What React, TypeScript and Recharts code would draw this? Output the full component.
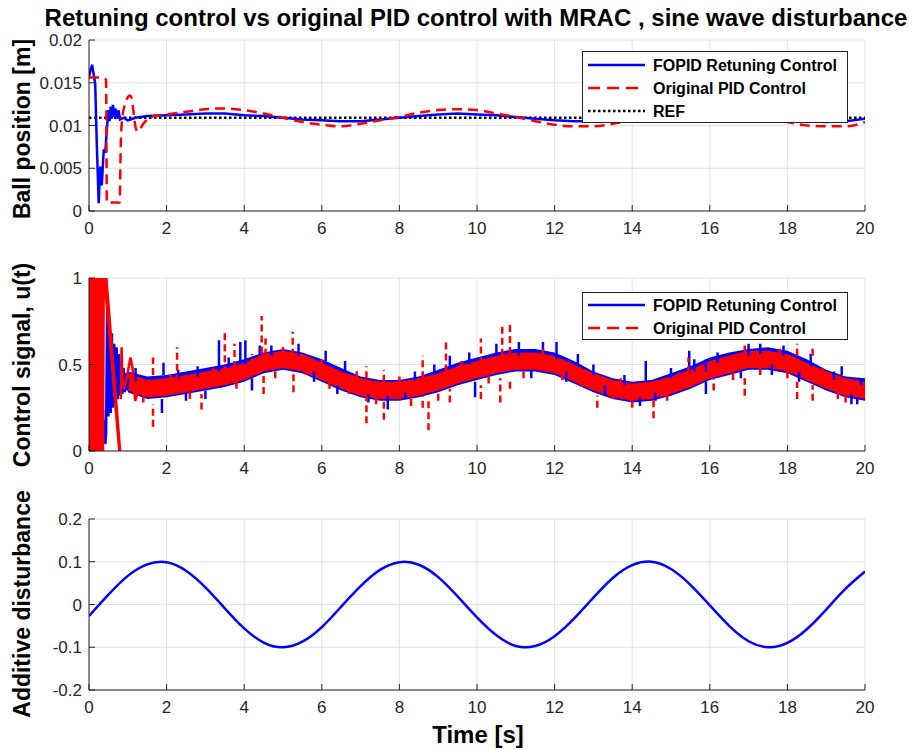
import React from "react";
import { Area, CartesianGrid, ComposedChart, Line, XAxis, YAxis } from "recharts";

const FONT = "'Liberation Sans', Arial, Helvetica, sans-serif";
const AX = "#262626";
const BLUE = "#0000ff";
const RED = "#ff0000";

const X_TICKS = [0, 2, 4, 6, 8, 10, 12, 14, 16, 18, 20];
const POS_TICKS = [0, 0.005, 0.01, 0.015, 0.02];
const U_TICKS = [0, 0.5, 1];
const D_TICKS = [-0.2, -0.1, 0, 0.1, 0.2];

// ---- ball position [m]
const fopidT = [
  0, 0.04, 0.08, 0.12, 0.16, 0.2, 0.25, 0.29, 0.33, 0.38, 0.42, 0.45, 0.5, 0.53, 0.56, 0.59, 0.62, 0.65,
  0.68, 0.72, 0.76, 0.8, 0.9, 1.0, 1.2, 1.5, 2, 2.5, 3, 3.5, 4, 4.5, 5, 5.5, 6, 6.5, 7, 7.5, 8, 8.5, 9,
  9.5, 10, 10.5, 11, 11.5, 12, 12.5, 13, 13.5, 14, 14.5, 15, 15.5, 16, 16.5, 17, 17.5, 18, 18.5, 19, 19.5, 20,
];
const fopidPos = [
  0.0157, 0.0165, 0.0171, 0.016, 0.0149, 0.008, 0.0009, 0.0052, 0.003, 0.0072, 0.0068, 0.009, 0.0118, 0.0105,
  0.0122, 0.0108, 0.0124, 0.011, 0.012, 0.0108, 0.0118, 0.0107, 0.0109, 0.0106, 0.0109, 0.0111, 0.0112, 0.0113,
  0.0114, 0.0114, 0.0112, 0.0111, 0.0109, 0.0107, 0.0106, 0.0105, 0.0105, 0.0107, 0.0109, 0.0111, 0.0113,
  0.0114, 0.0113, 0.0112, 0.011, 0.0108, 0.0106, 0.0105, 0.0105, 0.0106, 0.0108, 0.011, 0.0112, 0.0113,
  0.0113, 0.0112, 0.011, 0.0108, 0.0106, 0.0105, 0.0104, 0.0105, 0.0108,
];
const pidT = [
  0, 0.1, 0.2, 0.3, 0.4, 0.44, 0.46, 0.6, 0.79, 0.82, 0.86, 0.9, 0.95, 1.0, 1.05, 1.1, 1.15, 1.2, 1.25, 1.3,
  1.4, 1.5, 1.6, 1.8, 2, 2.5, 3, 3.5, 4, 4.5, 5, 5.5, 6, 6.5, 7, 7.5, 8, 8.5, 9, 9.5, 10, 10.5, 11, 11.5, 12,
  12.5, 13, 13.5, 14, 14.5, 15, 15.5, 16, 16.5, 17, 17.5, 18, 18.5, 19, 19.5, 20,
];
const pidPos = [
  0.0156, 0.0156, 0.0156, 0.0156, 0.0155, 0.0153, 0.001, 0.001, 0.001, 0.008, 0.011, 0.012, 0.0128, 0.0133,
  0.0135, 0.0132, 0.0115, 0.0098, 0.0093, 0.0095, 0.0102, 0.0107, 0.011, 0.0112, 0.0113, 0.0116, 0.0119, 0.012,
  0.0118, 0.0114, 0.0109, 0.0104, 0.0101, 0.0099, 0.0102, 0.0106, 0.011, 0.0115, 0.0118, 0.0119, 0.0118,
  0.0114, 0.011, 0.0105, 0.0101, 0.0099, 0.0099, 0.0102, 0.0106, 0.0111, 0.0115, 0.0118, 0.0119, 0.0117,
  0.0113, 0.0108, 0.0104, 0.01, 0.0099, 0.0099, 0.0104,
];
const refT = [0, 20];
const refPos = [0.0109, 0.0109];

// ---- control signal u(t): noisy band envelope, start-up transient, spikes
const bandT = [
  1, 1.5, 2, 2.5, 3, 3.5, 4, 4.5, 5, 5.5, 6, 6.5, 7, 7.5, 8, 8.5, 9, 9.5, 10, 10.5, 11, 11.5, 12, 12.5, 13,
  13.5, 14, 14.5, 15, 15.5, 16, 16.5, 17, 17.5, 18, 18.5, 19, 19.5, 20,
];
const pidULow = [
  0.35, 0.31, 0.32, 0.34, 0.36, 0.38, 0.41, 0.46, 0.48, 0.46, 0.41, 0.36, 0.32, 0.3, 0.3, 0.32, 0.35, 0.39,
  0.42, 0.45, 0.47, 0.47, 0.45, 0.4, 0.35, 0.31, 0.29, 0.3, 0.33, 0.37, 0.42, 0.45, 0.48, 0.48, 0.46, 0.41,
  0.36, 0.32, 0.3,
];
const pidUHigh = [
  0.45, 0.41, 0.42, 0.44, 0.46, 0.48, 0.51, 0.56, 0.58, 0.56, 0.51, 0.46, 0.42, 0.4, 0.4, 0.42, 0.45, 0.49,
  0.52, 0.55, 0.57, 0.57, 0.55, 0.5, 0.45, 0.41, 0.39, 0.4, 0.43, 0.47, 0.52, 0.55, 0.58, 0.58, 0.56, 0.51,
  0.46, 0.42, 0.4,
];
const fopidULow = [
  0.34, 0.3, 0.31, 0.33, 0.35, 0.37, 0.4, 0.45, 0.47, 0.45, 0.4, 0.35, 0.31, 0.29, 0.29, 0.31, 0.34, 0.38,
  0.41, 0.44, 0.46, 0.46, 0.44, 0.39, 0.34, 0.3, 0.28, 0.29, 0.32, 0.36, 0.41, 0.44, 0.47, 0.47, 0.45, 0.4,
  0.35, 0.31, 0.29,
];
const fopidUHigh = [
  0.46, 0.43, 0.44, 0.46, 0.48, 0.5, 0.53, 0.57, 0.59, 0.57, 0.53, 0.48, 0.43, 0.41, 0.41, 0.43, 0.47, 0.51,
  0.54, 0.57, 0.59, 0.59, 0.57, 0.52, 0.46, 0.42, 0.4, 0.41, 0.45, 0.49, 0.54, 0.57, 0.59, 0.6, 0.58, 0.53,
  0.47, 0.43, 0.42,
];

const fopidTransT = [
  0.3, 0.32, 0.34, 0.36, 0.38, 0.4, 0.42, 0.44, 0.47, 0.5, 0.53, 0.56, 0.59, 0.62, 0.65, 0.68, 0.71, 0.74,
  0.77, 0.8, 0.83, 0.86, 0.89, 0.92, 0.95, 0.98, 1.01,
];
const fopidTransU = [
  0.0, 0.22, 0.02, 0.24, 0.05, 0.18, 0.04, 0.1, 0.84, 0.2, 0.72, 0.22, 0.68, 0.25, 0.62, 0.28, 0.6, 0.3,
  0.56, 0.32, 0.52, 0.33, 0.48, 0.34, 0.45, 0.35, 0.42,
];
const pidTransT = [
  0, 0.02, 0.04, 0.06, 0.08, 0.1, 0.12, 0.14, 0.16, 0.18, 0.2, 0.22, 0.24, 0.26, 0.28, 0.3, 0.32, 0.34, 0.36,
  0.38, 0.8, null, 0.43, 0.82, null, 0.82, 0.84, 0.86, 0.9, 0.95, 1.0, 1.07, 1.12, 1.19, 1.25, 1.3,
];
const pidTransU = [
  0.0, 1.05, -0.05, 1.05, -0.05, 1.05, -0.05, 1.05, -0.05, 1.05, -0.05, 1.05, -0.05, 1.05, -0.05, 1.05, -0.05,
  1.05, -0.05, 1.05, -0.05, null, 1.05, -0.05, null, 0.3, 0.6, 0.42, 0.36, 0.4, 0.46, 0.54, 0.48, 0.29, 0.33,
  0.36,
];

const pidSpikeT = [
  1.65, 1.65, 2.27, 2.9, 3.5, 3.75, 4.45, 4.5, 4.55, 5.25, 5.27, 7.15, 7.15, 7.6, 7.6, 8.6, 8.6, 8.75, 9.2,
  9.3, 10.1, 10.1, 10.6, 10.65, 10.85, 10.85, 13.1, 13.5, 14.55, 15.45, 16.1, 16.9, 16.9, 18.25, 18.25,
  18.65, 18.65, 19.5,
  1.4, 2.1, 2.6, 3.2, 3.8, 4.2, 4.8, 5.0, 5.6, 6.0, 6.2, 6.7, 6.9, 7.4, 8.0, 8.3, 9.0, 9.6, 10.3, 11.2, 11.7,
  12.2, 12.7, 13.7, 14.0, 14.9, 15.2, 16.3, 16.6, 17.3, 17.8, 18.0, 18.9, 19.3, 19.8,
];
const pidSpikeLo = [
  0.14, 0.44, 0.4, 0.24, 0.45, 0.48, 0.5, 0.33, 0.55, 0.55, 0.34, 0.16, 0.42, 0.18, 0.4, 0.25, 0.42, 0.12,
  0.46, 0.28, 0.5, 0.3, 0.28, 0.55, 0.56, 0.36, 0.25, 0.3, 0.19, 0.45, 0.35, 0.57, 0.32, 0.55, 0.3, 0.55,
  0.29, 0.28,
  0.28, 0.4, 0.3, 0.44, 0.36, 0.49, 0.42, 0.56, 0.44, 0.49, 0.36, 0.33, 0.42, 0.27, 0.39, 0.26, 0.29, 0.48,
  0.39, 0.42, 0.55, 0.41, 0.37, 0.38, 0.25, 0.29, 0.41, 0.5, 0.41, 0.44, 0.55, 0.42, 0.44, 0.3, 0.31,
];
const pidSpikeHi = [
  0.27, 0.54, 0.6, 0.33, 0.7, 0.62, 0.78, 0.45, 0.65, 0.69, 0.45, 0.32, 0.49, 0.3, 0.47, 0.32, 0.55, 0.3,
  0.65, 0.36, 0.65, 0.38, 0.42, 0.73, 0.75, 0.4, 0.32, 0.36, 0.32, 0.54, 0.42, 0.62, 0.42, 0.62, 0.4, 0.61,
  0.38, 0.34,
  0.36, 0.46, 0.36, 0.5, 0.42, 0.56, 0.48, 0.62, 0.49, 0.55, 0.42, 0.38, 0.47, 0.33, 0.44, 0.32, 0.35, 0.54,
  0.45, 0.47, 0.6, 0.46, 0.42, 0.43, 0.31, 0.34, 0.46, 0.56, 0.46, 0.49, 0.61, 0.47, 0.49, 0.35, 0.36,
];
const fopidSpikeT = [
  1.88, 1.92, 2.5, 3.35, 3.9, 4.03, 4.2, 5.8, 6.4, 7.7, 8.15, 9.8, 9.95, 11.08, 11.4, 12.05, 12.3, 13.3,
  14.35, 14.6, 15.47, 15.9, 15.9, 16.8, 17.0, 17.6, 18.3, 19.2, 19.65, 19.9,
  1.2, 2.3, 2.8, 3.0, 3.6, 4.4, 4.7, 5.4, 6.1, 6.6, 7.2, 8.4, 8.9, 9.3, 10.5, 11.7, 12.6, 13.0, 13.8, 14.2,
  15.0, 15.6, 16.2, 17.3, 17.9, 18.6, 19.4, 19.8,
];
const fopidSpikeLo = [
  0.22, 0.44, 0.29, 0.46, 0.5, 0.5, 0.35, 0.4, 0.33, 0.24, 0.3, 0.5, 0.31, 0.55, 0.42, 0.53, 0.4, 0.32, 0.4,
  0.29, 0.45, 0.46, 0.33, 0.42, 0.55, 0.44, 0.4, 0.41, 0.27, 0.38,
  0.4, 0.41, 0.43, 0.3, 0.48, 0.55, 0.55, 0.55, 0.52, 0.46, 0.28, 0.41, 0.44, 0.48, 0.55, 0.56, 0.49, 0.44,
  0.38, 0.26, 0.42, 0.46, 0.51, 0.56, 0.55, 0.49, 0.44, 0.27,
];
const fopidSpikeHi = [
  0.3, 0.51, 0.34, 0.64, 0.63, 0.64, 0.42, 0.46, 0.38, 0.32, 0.34, 0.57, 0.4, 0.63, 0.47, 0.63, 0.46, 0.38,
  0.52, 0.34, 0.58, 0.53, 0.4, 0.47, 0.62, 0.5, 0.46, 0.46, 0.33, 0.42,
  0.48, 0.47, 0.49, 0.35, 0.54, 0.61, 0.61, 0.62, 0.58, 0.52, 0.33, 0.46, 0.5, 0.55, 0.62, 0.63, 0.56, 0.5,
  0.44, 0.31, 0.48, 0.53, 0.57, 0.62, 0.61, 0.56, 0.49, 0.32,
];

// ---- additive disturbance
const distT = [
  0, 0.5, 1, 1.5, 2, 2.5, 3, 3.5, 4, 4.5, 5, 5.5, 6, 6.5, 7, 7.5, 8, 8.5, 9, 9.5, 10, 10.5, 11, 11.5, 12,
  12.5, 13, 13.5, 14, 14.5, 15, 15.5, 16, 16.5, 17, 17.5, 18, 18.5, 19, 19.5, 20,
];
const distVal = [
  -0.027, 0.023, 0.067, 0.094, 0.099, 0.079, 0.04, -0.009, -0.056, -0.089, -0.1, -0.087, -0.053, -0.005,
  0.043, 0.081, 0.099, 0.093, 0.064, 0.019, -0.03, -0.072, -0.097, -0.097, -0.074, -0.033, 0.016, 0.062,
  0.092, 0.1, 0.083, 0.046, -0.002, -0.05, -0.086, -0.1, -0.09, -0.058, -0.012, 0.037, 0.077,
];

type Row = { t: number | null; v: number | number[] | null };

const rows = (ts: (number | null)[], vs: (number | null)[]): Row[] => ts.map((t, i) => ({ t, v: vs[i] }));
const bandRows = (ts: number[], lo: number[], hi: number[]): Row[] => ts.map((t, i) => ({ t, v: [lo[i], hi[i]] }));
const spikeRows = (ts: number[], lo: number[], hi: number[]): Row[] =>
  ts.flatMap((t, i) => [
    { t, v: lo[i] },
    { t, v: hi[i] },
    { t, v: null },
  ]);

const NoTick = () => <g />;
const tickStyle = { fill: AX, fontSize: 17, fontFamily: FONT };

function Panel({
  top,
  height,
  domain,
  ticks,
  children,
}: {
  top: number;
  height: number;
  domain: [number, number];
  ticks: number[];
  children: React.ReactNode;
}) {
  return (
    <div style={{ position: "absolute", left: 0, top: top - 10 }}>
      <ComposedChart width={922} height={height + 40} margin={{ top: 10, right: 57, bottom: 0, left: 0 }}>
        <CartesianGrid stroke="#e2e2e2" strokeWidth={1} />
        <XAxis
          dataKey="t"
          type="number"
          domain={[0, 20]}
          ticks={X_TICKS}
          interval={0}
          height={30}
          tickSize={-6}
          tickMargin={17}
          stroke={AX}
          tick={tickStyle}
          allowDataOverflow
        />
        <XAxis xAxisId="top" orientation="top" type="number" domain={[0, 20]} ticks={X_TICKS} interval={0} height={0} tickSize={-6} stroke={AX} tick={NoTick} />
        <YAxis
          type="number"
          domain={domain}
          ticks={ticks}
          interval={0}
          width={89}
          tickSize={-6}
          tickMargin={13}
          stroke={AX}
          tick={tickStyle}
          allowDataOverflow
        />
        <YAxis yAxisId="right" orientation="right" type="number" domain={domain} ticks={ticks} interval={0} width={0} tickSize={-6} stroke={AX} tick={NoTick} />
        {children}
      </ComposedChart>
    </div>
  );
}

function LegendRow({ y, color, dash, label }: { y: number; color: string; dash?: string; label: string }) {
  return (
    <g>
      <line x1={588} x2={645} y1={y} y2={y} stroke={color} strokeWidth={2.5} strokeDasharray={dash} />
      <text x={653} y={y + 6} fontSize={16} fontWeight="bold" fontFamily={FONT} fill="#000">
        {label}
      </text>
    </g>
  );
}

export default function App() {
  return (
    <div style={{ position: "absolute", left: 0, top: 0, width: 922, height: 749, background: "#fff", overflow: "hidden" }}>
      <Panel top={40} height={171} domain={[0, 0.02]} ticks={POS_TICKS}>
        <Line data={rows(refT, refPos)} dataKey="v" stroke="#000" strokeWidth={2.5} strokeDasharray="2.5 2.5" dot={false} isAnimationActive={false} />
        <Line data={rows(fopidT, fopidPos)} dataKey="v" type="linear" stroke={BLUE} strokeWidth={2.5} dot={false} isAnimationActive={false} />
        <Line data={rows(pidT, pidPos)} dataKey="v" type="monotone" stroke={RED} strokeWidth={2.5} strokeDasharray="10 6" dot={false} isAnimationActive={false} />
      </Panel>

      <Panel top={278} height={173} domain={[0, 1]} ticks={U_TICKS}>
        <Area data={bandRows(bandT, fopidULow, fopidUHigh)} dataKey="v" type="linear" stroke="none" fill={BLUE} fillOpacity={1} isAnimationActive={false} />
        <Line data={rows(fopidTransT, fopidTransU)} dataKey="v" type="linear" stroke={BLUE} strokeWidth={2.5} dot={false} isAnimationActive={false} />
        <Line data={spikeRows(fopidSpikeT, fopidSpikeLo, fopidSpikeHi)} dataKey="v" type="linear" stroke={BLUE} strokeWidth={2.5} dot={false} isAnimationActive={false} />
        <Area data={bandRows(bandT, pidULow, pidUHigh)} dataKey="v" type="linear" stroke="none" fill={RED} fillOpacity={1} isAnimationActive={false} />
        <Line data={rows(pidTransT, pidTransU)} dataKey="v" type="linear" stroke={RED} strokeWidth={2.5} dot={false} isAnimationActive={false} />
        <Line data={spikeRows(pidSpikeT, pidSpikeLo, pidSpikeHi)} dataKey="v" type="linear" stroke={RED} strokeWidth={2.5} strokeDasharray="7 4" dot={false} isAnimationActive={false} />
      </Panel>

      <Panel top={519} height={171} domain={[-0.2, 0.2]} ticks={D_TICKS}>
        <Line data={rows(distT, distVal)} dataKey="v" type="natural" stroke={BLUE} strokeWidth={2.5} dot={false} isAnimationActive={false} />
      </Panel>

      <svg width={922} height={749} style={{ position: "absolute", left: 0, top: 0, pointerEvents: "none" }}>
        <text x={476} y={26} textAnchor="middle" fontSize={24} fontWeight="bold" fontFamily={FONT} fill="#000">
          Retuning control vs original PID control with MRAC , sine wave disturbance
        </text>
        <text transform="translate(30,129) rotate(-90)" textAnchor="middle" fontSize={23} fontWeight="bold" fontFamily={FONT} fill="#000">
          Ball position [m]
        </text>
        <text transform="translate(30,365) rotate(-90)" textAnchor="middle" fontSize={23} fontWeight="bold" fontFamily={FONT} fill="#000">
          Control signal, u(t)
        </text>
        <text transform="translate(30,604) rotate(-90)" textAnchor="middle" fontSize={23} fontWeight="bold" fontFamily={FONT} fill="#000">
          Additive disturbance
        </text>
        <text x={478} y={743} textAnchor="middle" fontSize={24} fontWeight="bold" fontFamily={FONT} fill="#000">
          Time [s]
        </text>

        <rect x={582.5} y={51.5} width={265} height={71} fill="#fff" stroke={AX} strokeWidth={1} />
        <LegendRow y={65} color={BLUE} label="FOPID Retuning Control" />
        <LegendRow y={88} color={RED} dash="12 7" label="Original PID Control" />
        <LegendRow y={111} color="#000" dash="2.5 2.5" label="REF" />

        <rect x={582.5} y={292.5} width={265} height={47} fill="#fff" stroke={AX} strokeWidth={1} />
        <LegendRow y={305} color={BLUE} label="FOPID Retuning Control" />
        <LegendRow y={328} color={RED} dash="12 7" label="Original PID Control" />
      </svg>
    </div>
  );
}
